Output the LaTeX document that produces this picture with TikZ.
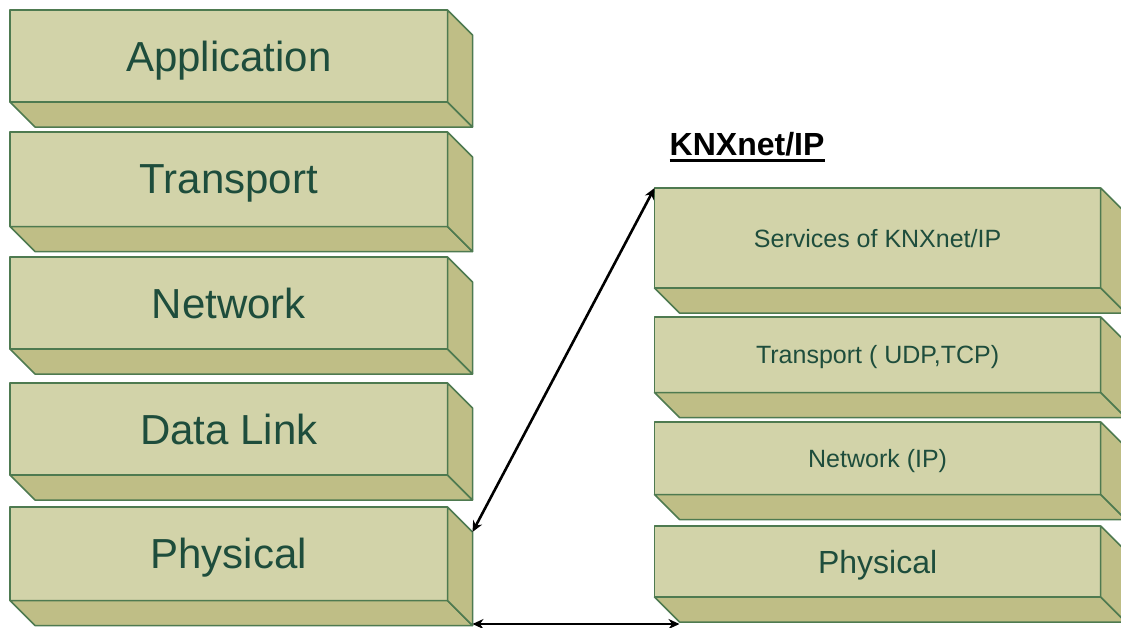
\documentclass[tikz,border=0pt]{standalone}
\usepackage{fontspec}
\setmainfont{Liberation Sans}
\usetikzlibrary{arrows.meta}

\definecolor{faceFront}{HTML}{D2D3A9}
\definecolor{faceDepth}{HTML}{BFBE86}
\definecolor{edgeGreen}{HTML}{4E7A50}
\definecolor{inkGreen}{HTML}{1E4D3C}

\tikzset{
  layer/.style={draw=edgeGreen, fill=faceFront, line width=1.5pt, inner sep=0pt,
    outer sep=0pt, text=inkGreen, align=center, line join=round, text depth=0pt},
  depthface/.style={draw=edgeGreen, fill=faceDepth, line width=1.5pt, line join=round},
  link/.style={line width=2.6pt,
    {Stealth[length=11pt,width=10pt]}-{Stealth[length=11pt,width=10pt]}},
}

% #1 name, #2 left x, #3 top y, #4 width, #5 height, #6 font size, #7 label
\newcommand\slab[7]{%
  \node[layer, anchor=north west, minimum width=#4pt, minimum height=#5pt,
        font=\fontsize{#6}{#6}\selectfont] (#1) at (#2,#3) {#7};
  \draw[depthface] (#1.south west) -- (#1.south east) -- ++(25,25) -- ++(-#4,0) -- cycle;
  \draw[depthface] (#1.north east) -- ++(25,25) -- ++(0,#5) -- (#1.south east) -- cycle;
  \coordinate (#1-tr) at ([shift={(25pt,-25pt)}]#1.north east);
  \coordinate (#1-br) at ([shift={(25pt,-25pt)}]#1.south east);
  \coordinate (#1-bl) at ([shift={(25pt,-25pt)}]#1.south west);
}

\begin{document}
\begin{tikzpicture}[x=1pt, y=-1pt]
  \clip (0,0) rectangle (1121,627);
  \fill[white] (0,0) rectangle (1121,627);

  % OSI reference stack
  \slab{app}{10}{10}{437.5}{92}{42}{Application}
  \slab{trn}{10}{132}{437.5}{94.5}{42}{Transport}
  \slab{net}{10}{257}{437.5}{92}{42}{Network}
  \slab{dll}{10}{383}{437.5}{92}{42}{Data Link}
  \slab{phyL}{10}{507}{437.5}{93.5}{42}{Physical}

  % KNXnet/IP stack
  \node[font=\fontsize{32}{32}\selectfont\bfseries, anchor=base west, inner sep=0pt]
    (title) at (669.5,155) {KNXnet/IP};
  \draw[line width=2.6pt] ([yshift=-5.5pt]title.base west) -- ([yshift=-5.5pt]title.base east);

  \slab{svc}{654.5}{188}{446.2}{100}{25}{Services of KNXnet/IP}
  \slab{udp}{654.5}{317}{446.2}{75.5}{25}{Transport ( UDP,TCP)}
  \slab{ip}{654.5}{422}{446.2}{72.5}{25}{Network (IP)}
  \slab{phyR}{654.5}{526}{446.2}{71}{32}{Physical}

  % mapping between the stacks
  \draw[link] (phyL-tr) -- (svc.north west);
  \draw[link] ([yshift=1.5pt]phyL-br) -- ([yshift=1.5pt]phyL-br -| phyR-bl);
\end{tikzpicture}
\end{document}
